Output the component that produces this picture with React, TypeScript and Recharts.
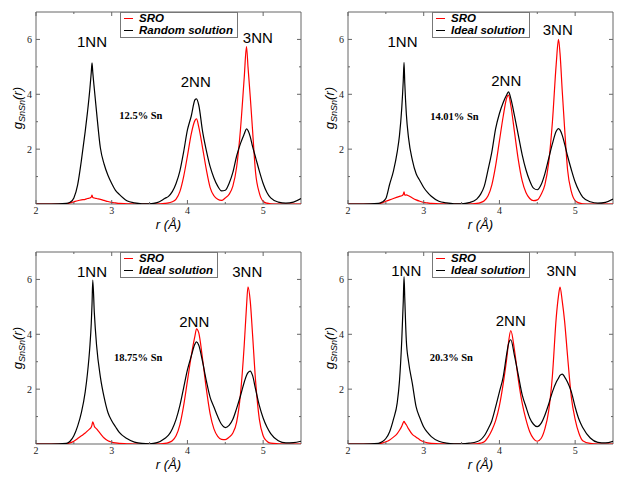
import React from "react";
import {
  Legend,
  Line,
  LineChart,
  ReferenceArea,
  ReferenceDot,
  XAxis,
  YAxis,
} from "recharts";

// r grid (Å), finer around the peaks
const rValues = [
  2.0, 2.2, 2.4, 2.45, 2.5, 2.55, 2.6, 2.65, 2.68, 2.71,
  2.73, 2.74, 2.75, 2.77, 2.8, 2.85, 2.9, 2.95, 3.0, 3.05,
  3.1, 3.2, 3.3, 3.4, 3.5, 3.6, 3.7, 3.75, 3.8, 3.85,
  3.9, 3.95, 4.0, 4.05, 4.1, 4.12, 4.15, 4.2, 4.25, 4.3,
  4.35, 4.4, 4.45, 4.5, 4.55, 4.6, 4.65, 4.7, 4.75, 4.78,
  4.8, 4.83, 4.86, 4.9, 4.95, 5.0, 5.05, 5.1, 5.2, 5.3,
  5.4, 5.5,
];

// 12.5% Sn
const sro125 = [
  0, 0, 0.01, 0.04, 0.08, 0.12, 0.15, 0.17, 0.2, 0.22,
  0.25, 0.32, 0.24, 0.22, 0.2, 0.17, 0.13, 0.09, 0.06, 0.04,
  0.02, 0.01, 0, 0, 0, 0, 0.02, 0.04, 0.08, 0.18,
  0.45, 1.0, 1.75, 2.55, 3.05, 3.1, 2.8, 2.05, 1.25, 0.6,
  0.3, 0.17, 0.13, 0.22, 0.35, 0.65, 1.35, 2.7, 4.6, 5.74,
  5.0, 3.9, 2.7, 1.15, 0.4, 0.1, 0.03, 0.01, 0, 0,
  0, 0,
];
const random125 = [
  0, 0, 0.02, 0.06, 0.22, 0.7, 1.6, 2.65, 3.35, 4.15,
  4.8, 5.15, 4.8, 4.2, 3.35, 2.05, 1.45, 1.05, 0.75, 0.5,
  0.35, 0.12, 0.04, 0.01, 0.01, 0.05, 0.2, 0.28, 0.45, 0.75,
  1.2, 1.9, 2.7, 3.2, 3.8, 3.83, 3.6, 2.65, 1.95, 1.36,
  0.95, 0.65, 0.48, 0.5, 0.75, 1.15, 1.75, 2.2, 2.55, 2.74,
  2.68, 2.45, 2.1, 1.7, 1.2, 0.75, 0.42, 0.22, 0.07, 0.03,
  0.07, 0.2,
];

// 14.01% Sn
const sro1401 = [
  0, 0, 0.01, 0.04, 0.1, 0.15, 0.2, 0.25, 0.28, 0.3,
  0.35, 0.44, 0.32, 0.33, 0.3, 0.22, 0.15, 0.1, 0.06, 0.04,
  0.02, 0.01, 0, 0, 0, 0, 0.02, 0.05, 0.12, 0.3,
  0.7, 1.4, 2.3, 3.2, 3.9, 3.97, 3.6, 2.6, 1.6, 0.85,
  0.42, 0.2, 0.12, 0.15, 0.35, 0.7, 1.5, 3.0, 5.1, 6.0,
  5.5, 4.1, 2.8, 1.25, 0.45, 0.12, 0.04, 0.01, 0, 0,
  0, 0,
];
const ideal1401 = [
  0, 0, 0.02, 0.07, 0.2, 0.72, 1.2, 1.9, 2.5, 3.5,
  4.5, 5.16, 4.4, 3.3, 2.4, 1.6, 1.1, 0.85, 0.6, 0.42,
  0.28, 0.1, 0.04, 0.01, 0.01, 0.05, 0.18, 0.35, 0.65, 1.25,
  1.9, 2.75, 3.3, 3.7, 4.0, 4.09, 3.85, 3.2, 2.5, 1.8,
  1.25, 0.85, 0.58, 0.52, 0.7, 1.1, 1.65, 2.2, 2.65, 2.75,
  2.7, 2.5, 2.2, 1.75, 1.25, 0.8, 0.48, 0.25, 0.08, 0.03,
  0.06, 0.18,
];

// 18.75% Sn
const sro1875 = [
  0, 0, 0.01, 0.04, 0.1, 0.2, 0.3, 0.4, 0.48, 0.55,
  0.62, 0.7, 0.81, 0.65, 0.55, 0.38, 0.22, 0.12, 0.07, 0.04,
  0.02, 0.01, 0, 0, 0, 0, 0.02, 0.05, 0.12, 0.3,
  0.7, 1.4, 2.3, 3.2, 3.95, 4.2, 4.05, 3.1, 2.0, 1.1,
  0.55, 0.28, 0.17, 0.16, 0.25, 0.4, 0.8, 1.8, 3.6, 5.0,
  5.73, 5.2, 4.0, 2.3, 0.9, 0.3, 0.1, 0.03, 0.01, 0,
  0, 0,
];
const ideal1875 = [
  0, 0, 0.02, 0.1, 0.3, 0.65, 1.15, 1.9, 2.58, 3.5,
  4.4, 5.1, 5.98, 4.8, 3.6, 2.45, 1.7, 1.15, 0.85, 0.63,
  0.42, 0.2, 0.07, 0.02, 0.01, 0.05, 0.2, 0.32, 0.55, 0.9,
  1.4, 2.05, 2.7, 3.2, 3.65, 3.72, 3.6, 3.0, 2.3, 1.7,
  1.35, 1.0, 0.72, 0.6, 0.68, 0.9, 1.3, 1.75, 2.25, 2.5,
  2.6, 2.66, 2.5, 2.0, 1.4, 0.95, 0.62, 0.38, 0.12, 0.04,
  0.05, 0.1,
];

// 20.3% Sn
const sro203 = [
  0, 0, 0.01, 0.03, 0.08, 0.15, 0.25, 0.38, 0.5, 0.65,
  0.78, 0.83, 0.78, 0.7, 0.55, 0.35, 0.25, 0.15, 0.08, 0.04,
  0.02, 0.01, 0, 0, 0, 0, 0.01, 0.03, 0.08, 0.25,
  0.5, 0.85, 1.4, 2.2, 3.2, 3.7, 4.13, 3.4, 2.34, 1.5,
  0.9, 0.45, 0.2, 0.1, 0.2, 0.55, 1.2, 2.5, 4.6, 5.4,
  5.72, 5.2, 4.5, 3.2, 1.7, 0.9, 0.39, 0.12, 0.02, 0,
  0, 0,
];
const ideal203 = [
  0, 0, 0.02, 0.08, 0.2, 0.45, 0.9, 1.5, 2.3, 3.78,
  5.2, 6.1, 5.3, 3.78, 3.0, 2.2, 1.35, 0.95, 0.62, 0.42,
  0.27, 0.1, 0.03, 0.01, 0.01, 0.03, 0.08, 0.15, 0.3, 0.55,
  0.85, 1.35, 1.9, 2.45, 3.35, 3.65, 3.8, 3.2, 2.5, 1.8,
  1.36, 0.95, 0.72, 0.63, 0.75, 1.05, 1.45, 1.9, 2.25, 2.4,
  2.5, 2.55, 2.45, 2.25, 1.9, 1.35, 0.9, 0.6, 0.22, 0.06,
  0.04, 0.1,
];

const xTicks = [2, 2.5, 3, 3.5, 4, 4.5, 5];
const yTicks = [1, 2, 3, 4, 5, 6];
const peakNames = ["1NN", "2NN", "3NN"];

const panels = [
  {
    left: 0, top: 0, sro: sro125, other: random125, otherName: "Random solution",
    conc: "12.5% Sn", concAt: [3.1, 3.09],
    peaks: [[2.74, 5.72], [4.11, 4.26], [4.93, 5.86]],
  },
  {
    left: 312, top: 0, sro: sro1401, other: ideal1401, otherName: "Ideal solution",
    conc: "14.01% Sn", concAt: [3.085, 3.07],
    peaks: [[2.72, 5.72], [4.09, 4.31], [4.77, 6.17]],
  },
  {
    left: 0, top: 240, sro: sro1875, other: ideal1875, otherName: "Ideal solution",
    conc: "18.75% Sn", concAt: [3.03, 3.04],
    peaks: [[2.74, 6.1], [4.09, 4.25], [4.79, 6.08]],
  },
  {
    left: 312, top: 240, sro: sro203, other: ideal203, otherName: "Ideal solution",
    conc: "20.3% Sn", concAt: [3.08, 3.04],
    peaks: [[2.77, 6.13], [4.15, 4.3], [4.82, 6.13]],
  },
];

const AXIS = "#666";
const SANS = "'Liberation Sans', Arial, sans-serif";
const SERIF = "'Liberation Serif', 'Times New Roman', serif";
// plot box size, used to mirror the ticks on the top and right edges
const PLOT_W = 265;
const PLOT_H = 192;

const BottomTick = ({ x, y, payload }: any) => {
  const major = Number.isInteger(payload.value);
  const len = major ? 4 : 2;
  return (
    <g>
      <line x1={x} x2={x} y1={y} y2={y - len} stroke={AXIS} />
      <line x1={x} x2={x} y1={y - PLOT_H} y2={y - PLOT_H + len} stroke={AXIS} />
      {major && (
        <text x={x} y={y + 10} textAnchor="middle" fontSize={10} fontFamily={SERIF} fill="#222">
          {payload.value}
        </text>
      )}
    </g>
  );
};

const LeftTick = ({ x, y, payload }: any) => {
  const major = payload.value % 2 === 0;
  const len = major ? 4 : 2;
  return (
    <g>
      <line x1={x} x2={x + len} y1={y} y2={y} stroke={AXIS} />
      <line x1={x + PLOT_W} x2={x + PLOT_W - len} y1={y} y2={y} stroke={AXIS} />
      {major && (
        <text x={x - 4} y={y + 3.5} textAnchor="end" fontSize={10} fontFamily={SERIF} fill="#222">
          {payload.value}
        </text>
      )}
    </g>
  );
};

const YTitle = ({ viewBox }: any) => {
  const cx = viewBox.x + 16;
  const cy = viewBox.y + viewBox.height / 2;
  return (
    <text
      x={cx}
      y={cy}
      transform={`rotate(-90, ${cx}, ${cy})`}
      textAnchor="middle"
      fontFamily={SANS}
      fontStyle="italic"
      fontSize={13}
    >
      <tspan>g</tspan>
      <tspan fontSize={9} dy={3}>SnSn</tspan>
      <tspan dy={-3}>(r)</tspan>
    </text>
  );
};

const XTitle = ({ viewBox }: any) => (
  <text
    x={viewBox.x + viewBox.width / 2}
    y={viewBox.y + 25}
    textAnchor="middle"
    fontFamily={SANS}
    fontStyle="italic"
    fontSize={13}
  >
    r (Å)
  </text>
);

const LegendBox = ({ payload }: any) => {
  // SRO first, as in the original figure
  const items = [...(payload || [])].sort((a: any, b: any) =>
    a.dataKey === "sro" ? -1 : b.dataKey === "sro" ? 1 : 0
  );
  return (
    <div
      style={{
        border: "1px solid #777",
        background: "#fff",
        padding: "0 4px 1px 3px",
        fontFamily: SANS,
        fontWeight: "bold",
        fontStyle: "italic",
        fontSize: 11.5,
        lineHeight: "11.5px",
        color: "#000",
        whiteSpace: "nowrap",
      }}
    >
      {items.map((p: any) => (
        <div key={p.value} style={{ display: "flex", alignItems: "center" }}>
          <span
            style={{
              display: "inline-block",
              width: 9,
              height: 1.3,
              background: p.color,
              marginRight: 6,
            }}
          />
          <span>{p.value}</span>
        </div>
      ))}
    </div>
  );
};

const Panel = ({ panel }: any) => {
  const data = rValues.map((r, i) => ({ r, sro: panel.sro[i], other: panel.other[i] }));
  return (
    <div style={{ position: "absolute", left: panel.left, top: panel.top }}>
      <LineChart
        width={311}
        height={240}
        data={data}
        margin={{ top: 12, right: 10, bottom: 16, left: 6 }}
      >
        <XAxis
          dataKey="r"
          type="number"
          domain={[2, 5.5]}
          ticks={xTicks}
          interval={0}
          height={20}
          axisLine={false}
          tickLine={false}
          tickSize={0}
          tickMargin={0}
          tick={<BottomTick />}
          allowDataOverflow
          label={<XTitle />}
        />
        <YAxis
          type="number"
          domain={[0, 7]}
          ticks={yTicks}
          interval={0}
          width={30}
          axisLine={false}
          tickLine={false}
          tickSize={0}
          tickMargin={0}
          tick={<LeftTick />}
          allowDataOverflow
          label={<YTitle />}
        />
        <ReferenceArea x1={2} x2={5.5} y1={0} y2={7} fill="none" stroke={AXIS} strokeWidth={1} />
        <Line
          type="monotone"
          dataKey="sro"
          name="SRO"
          stroke="#ff0000"
          strokeWidth={1.2}
          dot={false}
          isAnimationActive={false}
        />
        <Line
          type="monotone"
          dataKey="other"
          name={panel.otherName}
          stroke="#000000"
          strokeWidth={1.2}
          dot={false}
          isAnimationActive={false}
        />
        {panel.peaks.map((p: number[], i: number) => (
          <ReferenceDot
            key={peakNames[i]}
            x={p[0]}
            y={p[1]}
            r={0}
            shape={(s: any) => (
              <text x={s.cx} y={s.cy} textAnchor="middle" fontFamily={SANS} fontSize={15} fill="#000">
                {peakNames[i]}
              </text>
            )}
          />
        ))}
        <ReferenceDot
          x={panel.concAt[0]}
          y={panel.concAt[1]}
          r={0}
          shape={(s: any) => (
            <text x={s.cx} y={s.cy} textAnchor="start" fontFamily={SERIF} fontWeight="bold" fontSize={10.5} fill="#000">
              {panel.conc}
            </text>
          )}
        />
        <Legend
          layout="vertical"
          align="center"
          verticalAlign="middle"
          wrapperStyle={{ left: 120, top: 12, width: "auto", height: "auto" }}
          content={<LegendBox />}
        />
      </LineChart>
    </div>
  );
}

export default function App() {
  return (
    <div
      style={{
        position: "absolute",
        left: 0,
        top: 0,
        width: 623,
        height: 481,
        background: "#fff",
      }}
    >
      {panels.map((p) => (
        <Panel key={p.conc} panel={p} />
      ))}
    </div>
  );
}
